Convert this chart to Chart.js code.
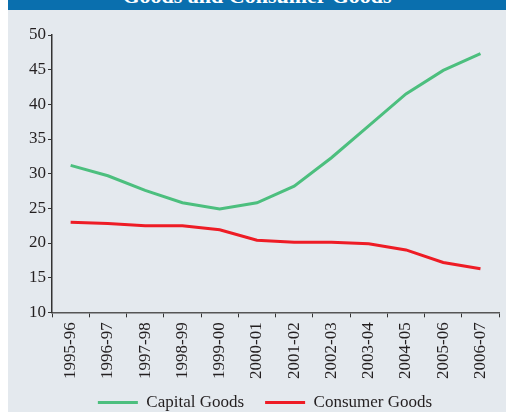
<!DOCTYPE html>
<html>
<head>
<meta charset="utf-8">
<script src="https://cdn.jsdelivr.net/npm/chart.js@4.4.1/dist/chart.umd.min.js"></script>
<style>
    html, body { margin: 0; padding: 0; background: #ffffff; }
    #panel {
        position: absolute; left: 8px; top: 0; width: 498px; height: 412px;
        background: #e4e9ee; overflow: hidden;
    }
    #header {
        position: absolute; left: 0; top: 0; width: 498px; height: 10px;
        background: #0a6fae; overflow: hidden;
    }
    #header span {
        position: absolute; left: 0; width: 100%; top: -15px;
        text-align: center; color: #ffffff; font: bold 22px "Liberation Serif", serif;
        line-height: 22px; white-space: nowrap;
    }
    #wrap { position: absolute; left: 0; top: 10px; width: 498px; height: 402px; }
</style>
</head>
<body>
<div id="panel">
    <div id="header"><span>Goods and Consumer Goods</span></div>
    <div id="wrap"><canvas id="goodsChart"></canvas></div>
</div>
<script>
// Growth shares by year
const years = ['1995-96', '1996-97', '1997-98', '1998-99', '1999-00', '2000-01',
               '2001-02', '2002-03', '2003-04', '2004-05', '2005-06', '2006-07'];
const capitalGoods  = [31.2, 29.7, 27.6, 25.8, 24.9, 25.8, 28.2, 32.3, 36.9, 41.5, 44.9, 47.3];
const consumerGoods = [23.0, 22.8, 22.5, 22.5, 21.9, 20.4, 20.1, 20.1, 19.9, 19.0, 17.2, 16.3];
const yTicks = [10, 15, 20, 25, 30, 35, 40, 45, 50];

const fontFace = '"Liberation Serif", serif';
const inkColor = '#231f20';

// legend padding is wide for the gap between items, so take the extra
// height back and pull the row up a bit
const legendTrim = {
    id: 'legendTrim',
    beforeInit(chart) {
        const fit = chart.legend.fit;
        chart.legend.fit = function () {
            fit.call(this);
            this.height -= 20;
        };
    },
    afterLayout(chart) {
        chart.legend.top -= 11;
    }
};

const ctx = document.getElementById('goodsChart');
window.goodsChart = new Chart(ctx, {
    type: 'line',
    data: {
        labels: years,
        datasets: [
            {
                label: 'Capital Goods',
                data: capitalGoods,
                borderColor: '#4cbf7e',
                backgroundColor: '#4cbf7e',
                borderWidth: 3,
                pointRadius: 0,
                tension: 0
            },
            {
                label: 'Consumer Goods',
                data: consumerGoods,
                borderColor: '#ee1c25',
                backgroundColor: '#ee1c25',
                borderWidth: 3,
                pointRadius: 0,
                tension: 0
            }
        ]
    },
    options: {
        responsive: true,
        maintainAspectRatio: false,
        animation: false,
        layout: { padding: { top: 25, right: 3, left: 19, bottom: 0 } },
        plugins: {
            legend: {
                position: 'bottom',
                labels: {
                    color: inkColor,
                    font: { family: fontFace, size: 17 },
                    boxWidth: 40,
                    boxHeight: 0,
                    padding: 21
                }
            },
            tooltip: { enabled: false }
        },
        scales: {
            x: {
                offset: true,
                grid: {
                    offset: true,
                    drawOnChartArea: false,
                    drawTicks: true,
                    tickLength: 5,
                    color: '#333333'
                },
                border: { color: '#555555', width: 1.5 },
                ticks: {
                    color: inkColor,
                    font: { family: fontFace, size: 17 },
                    minRotation: 90,
                    maxRotation: 90,
                    padding: 5
                }
            },
            y: {
                min: 10,
                max: 50,
                afterBuildTicks: axis => {
                    axis.ticks = yTicks.map(v => ({ value: v }));
                },
                grid: {
                    drawOnChartArea: false,
                    drawTicks: true,
                    tickLength: 4,
                    color: '#333333'
                },
                border: { color: '#333333', width: 1.5 },
                ticks: {
                    color: inkColor,
                    font: { family: fontFace, size: 17 },
                    padding: 2
                }
            }
        }
    },
    plugins: [legendTrim]
});
</script>
</body>
</html>
